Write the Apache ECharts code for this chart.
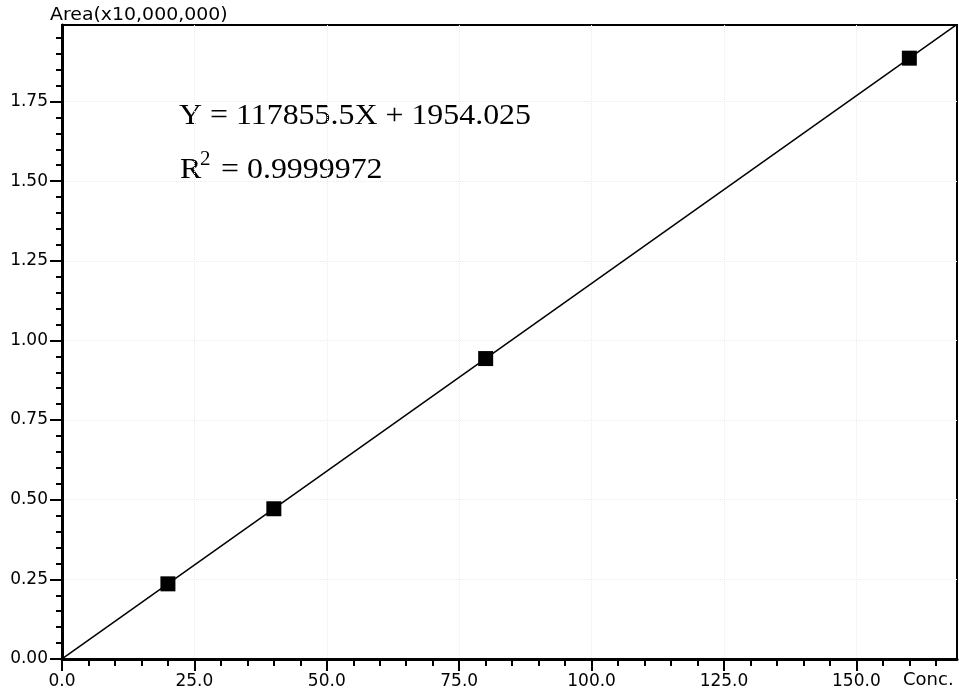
<!DOCTYPE html>
<html>
<head>
<meta charset="utf-8">
<script src="https://cdn.jsdelivr.net/npm/echarts@6/dist/echarts.min.js"></script>
<style>
  html, body { margin: 0; padding: 0; background: #ffffff; }
  #chart { width: 959px; height: 694px; }
</style>
</head>
<body>
<div id="chart"></div>
<script>
// ---- data (Area in units of 10,000,000) ----
const concValues = [20, 40, 80, 160];
const areaValues = [0.2359, 0.4716, 0.9430, 1.8859];

// regression line end points
const fitLineX = [0, 169];
const fitLineY = [0.0002, 1.992];

// axis ticks
const xTickValues = [0, 25, 50, 75, 100, 125, 150];
const yTickValues = [0, 0.25, 0.5, 0.75, 1.0, 1.25, 1.5, 1.75];
const xMinorTicks = [5, 10, 15, 20, 30, 35, 40, 45, 55, 60, 65, 70, 80, 85, 90, 95,
  105, 110, 115, 120, 130, 135, 140, 145, 155, 160, 165];
const yMinorTicks = [0.05, 0.1, 0.15, 0.2, 0.3, 0.35, 0.4, 0.45, 0.55, 0.6, 0.65, 0.7,
  0.8, 0.85, 0.9, 0.95, 1.05, 1.1, 1.15, 1.2, 1.3, 1.35, 1.4, 1.45,
  1.55, 1.6, 1.65, 1.7, 1.8, 1.85, 1.9, 1.95];

const xMax = 169;
const yMax = 1.99;

const equationText = 'Y = 117855.5X + 1954.025';
const rText = 'R';
const rSup = '2';
const rValueText = '= 0.9999972';
const yAxisTitle = 'Area(x10,000,000)';
const xAxisTitle = 'Conc.';

const chart = echarts.init(document.getElementById('chart'), null, { renderer: 'canvas' });

const labelFont = { fontFamily: 'DejaVu Sans', fontSize: 17, color: '#000' };
const gridBox = { left: 62, right: 2, top: 25, bottom: 35, outerBoundsMode: 'none' };

const fitData = fitLineX.map((x, i) => [x, fitLineY[i]]);
const pointData = concValues.map((x, i) => [x, areaValues[i]]);

const option = {
  backgroundColor: '#ffffff',
  animation: false,
  grid: [
    Object.assign({ show: true, borderColor: '#000', borderWidth: 2, backgroundColor: 'transparent' }, gridBox),
    Object.assign({ show: false }, gridBox)
  ],
  xAxis: [
    {
      type: 'value', gridIndex: 0, min: 0, max: xMax, interval: 25,
      axisLine: { show: true, onZero: false, lineStyle: { color: '#000', width: 3 } },
      axisTick: { show: true, inside: false, length: 12, customValues: xTickValues, lineStyle: { color: '#000', width: 2 } },
      axisLabel: Object.assign({ show: true, margin: 14, customValues: xTickValues,
        formatter: v => Number(v).toFixed(1) }, labelFont),
      splitLine: { show: true, lineStyle: { color: '#ececec', type: 'dotted', width: 1 } }
    },
    {
      type: 'value', gridIndex: 1, min: 0, max: xMax, interval: 5,
      axisLine: { show: false, onZero: false },
      axisTick: { show: true, inside: false, length: 7, customValues: xMinorTicks, lineStyle: { color: '#000', width: 2 } },
      axisLabel: { show: false },
      splitLine: { show: false }
    }
  ],
  yAxis: [
    {
      type: 'value', gridIndex: 0, min: 0, max: yMax, interval: 0.25,
      axisLine: { show: true, onZero: false, lineStyle: { color: '#000', width: 3 } },
      axisTick: { show: true, inside: false, length: 12, customValues: yTickValues, lineStyle: { color: '#000', width: 2 } },
      axisLabel: Object.assign({ show: true, margin: 14, customValues: yTickValues,
        formatter: v => Number(v).toFixed(2) }, labelFont),
      splitLine: { show: true, lineStyle: { color: '#ececec', type: 'dotted', width: 1 } }
    },
    {
      type: 'value', gridIndex: 1, min: 0, max: yMax, interval: 0.05,
      axisLine: { show: false, onZero: false },
      axisTick: { show: true, inside: false, length: 6, customValues: yMinorTicks, lineStyle: { color: '#000', width: 2 } },
      axisLabel: { show: false },
      splitLine: { show: false }
    }
  ],
  series: [
    {
      name: 'fit', type: 'line', xAxisIndex: 0, yAxisIndex: 0,
      data: fitData, symbol: 'none', clip: true,
      lineStyle: { color: '#000', width: 1.5 }, z: 3
    },
    {
      name: 'standards', type: 'scatter', xAxisIndex: 0, yAxisIndex: 0,
      data: pointData, symbol: 'rect', symbolSize: 15,
      itemStyle: { color: '#000', opacity: 1 }, z: 4
    }
  ],
  graphic: [
    { type: 'text', left: 50, top: 6, scaleX: 1.05,
      style: { text: yAxisTitle, font: '18px "DejaVu Sans"', fill: '#000' } },
    { type: 'text', x: 903, y: 680,
      style: { text: xAxisTitle, font: '18px "DejaVu Sans"', fill: '#000', align: 'left', verticalAlign: 'middle' } },
    { type: 'text', x: 179, y: 116, scaleX: 1.1,
      style: { text: equationText, font: '29px "Liberation Serif"', fill: '#000', align: 'left', verticalAlign: 'middle' } },
    { type: 'text', x: 180, y: 170, scaleX: 1.1,
      style: { text: rText, font: '29px "Liberation Serif"', fill: '#000', align: 'left', verticalAlign: 'middle' } },
    { type: 'text', x: 200, y: 160, scaleX: 1.05,
      style: { text: rSup, font: '20px "Liberation Serif"', fill: '#000', align: 'left', verticalAlign: 'middle' } },
    { type: 'text', x: 221, y: 170, scaleX: 1.1,
      style: { text: rValueText, font: '29px "Liberation Serif"', fill: '#000', align: 'left', verticalAlign: 'middle' } }
  ]
};

chart.setOption(option);
</script>
</body>
</html>
